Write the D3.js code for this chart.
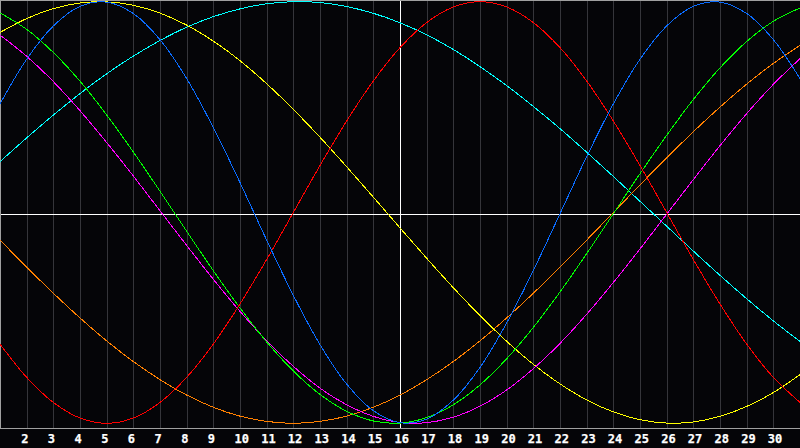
<!DOCTYPE html>
<html>
<head>
<meta charset="utf-8">
<script src="https://cdn.jsdelivr.net/npm/d3@7"></script>
<style>
  html, body { margin: 0; padding: 0; background: #050508; }
  svg { display: block; }
  .tick text { font-family: "DejaVu Sans Mono", monospace; font-weight: bold; font-size: 12px; fill: #ffffff; stroke: #ffffff; stroke-width: 0.25px; }
</style>
</head>
<body>
<svg id="chart" width="800" height="448"></svg>
<script>

// days of the month shown on the x axis
var days = d3.range(1, 32);
var tickDays = d3.range(2, 31);
var today = 16;

// cycle values, one per day (1..31)
var physical = [0.515, 0.727, 0.885, 0.978, 0.998, 0.944, 0.820, 0.635, 0.403, 0.142,
  -0.131, -0.393, -0.627, -0.814, -0.940, -0.997, -0.980, -0.890, -0.735, -0.524,
  -0.275, -0.006, 0.265, 0.515, 0.727, 0.885, 0.978, 0.998, 0.944, 0.820, 0.635];
var emotional = [-0.624, -0.782, -0.901, -0.975, -1.000, -0.975, -0.901, -0.782, -0.624, -0.434,
  -0.223, 0.000, 0.223, 0.434, 0.624, 0.782, 0.901, 0.975, 1.000, 0.975,
  0.901, 0.782, 0.624, 0.434, 0.223, 0.000, -0.223, -0.434, -0.624, -0.782, -0.901];
var aesthetic = [0.854, 0.920, 0.967, 0.994, 0.999, 0.983, 0.946, 0.889, 0.813, 0.720,
  0.611, 0.489, 0.357, 0.217, 0.073, -0.073, -0.217, -0.357, -0.489, -0.611,
  -0.720, -0.813, -0.889, -0.946, -0.983, -0.999, -0.994, -0.967, -0.920, -0.854, -0.769];
var intellectual = [0.947, 0.869, 0.759, 0.623, 0.463, 0.287, 0.101, -0.089, -0.276, -0.453,
  -0.614, -0.752, -0.863, -0.943, -0.989, -0.999, -0.973, -0.912, -0.818, -0.694,
  -0.545, -0.377, -0.195, -0.006, 0.184, 0.366, 0.536, 0.686, 0.811, 0.907, 0.970];
var intuitive = [0.842, 0.741, 0.621, 0.483, 0.332, 0.173, 0.008, -0.156, -0.317, -0.469,
  -0.608, -0.730, -0.833, -0.912, -0.967, -0.996, -0.997, -0.971, -0.919, -0.842,
  -0.741, -0.621, -0.483, -0.332, -0.173, -0.008, 0.156, 0.317, 0.469, 0.608, 0.730];
var awareness = [-0.131, -0.259, -0.383, -0.500, -0.609, -0.707, -0.793, -0.866, -0.924, -0.966,
  -0.991, -1.000, -0.991, -0.966, -0.924, -0.866, -0.793, -0.707, -0.609, -0.500,
  -0.383, -0.259, -0.131, 0.000, 0.131, 0.259, 0.383, 0.500, 0.609, 0.707, 0.793];
var spiritual = [0.241, 0.354, 0.462, 0.564, 0.658, 0.742, 0.816, 0.879, 0.929, 0.966,
  0.990, 1.000, 0.996, 0.977, 0.945, 0.900, 0.843, 0.773, 0.692, 0.602,
  0.503, 0.398, 0.286, 0.171, 0.053, -0.065, -0.183, -0.298, -0.409, -0.514, -0.612];

var seriesNames = ["spiritual", "awareness", "aesthetic", "intuitive", "intellectual", "emotional", "physical"];
var seriesValues = [spiritual, awareness, aesthetic, intuitive, intellectual, emotional, physical];
var seriesColors = ["#00ffff", "#ff8000", "#ffff00", "#ff00ff", "#00ff00", "#ff0000", "#0a6cff"];

var width = 800,
    plotHeight = 428;

var svg = d3.select("#chart");

svg.append("rect")
  .attr("width", 800).attr("height", 448)
  .attr("fill", "#050508");

var x = d3.scaleLinear().domain([1, 31]).range([0, width]);
var y = d3.scaleLinear().domain([-1, 1]).range([423.3, 1.7]);

// day grid + labels
var xAxis = d3.axisBottom(x)
  .tickValues(tickDays)
  .tickSize(plotHeight)
  .tickPadding(5)
  .tickFormat(d3.format("d"));

var gAxis = svg.append("g")
  .attr("class", "x-axis")
  .call(xAxis);

gAxis.select(".domain").remove();
gAxis.selectAll(".tick line")
  .attr("stroke", function(d){ return d === today ? "#ffffff" : "#35353a"; })
  .attr("shape-rendering", "crispEdges");
gAxis.selectAll(".tick text")
  .attr("text-anchor", "start")
  .attr("dx", "-6")
  .attr("y", 443)
  .attr("dy", "0");

// today line on top of the others
gAxis.selectAll(".tick").filter(function(d){ return d === today; }).raise();

// zero line
svg.append("line")
  .attr("x1", 0).attr("x2", width)
  .attr("y1", plotHeight / 2 + 0.5).attr("y2", plotHeight / 2 + 0.5)
  .attr("stroke", "#ffffff")
  .attr("shape-rendering", "crispEdges");

// frame
svg.append("path")
  .attr("d", "M" + width + ",0.5H0.5V" + (plotHeight + 0.5) + "H" + width)
  .attr("fill", "none")
  .attr("stroke", "#a0a0a0")
  .attr("shape-rendering", "crispEdges");

var line = d3.line()
  .x(function(d, i){ return x(days[i]); })
  .y(function(d){ return y(d); })
  .curve(d3.curveCatmullRom);

svg.append("g")
  .attr("class", "cycles")
  .selectAll("path")
  .data(seriesValues)
  .enter()
  .append("path")
    .attr("class", function(d, i){ return "cycle " + seriesNames[i]; })
    .attr("d", line)
    .attr("fill", "none")
    .attr("stroke", function(d, i){ return seriesColors[i]; })
    .attr("stroke-width", 1)
    .attr("shape-rendering", "crispEdges");

</script>
</body>
</html>
